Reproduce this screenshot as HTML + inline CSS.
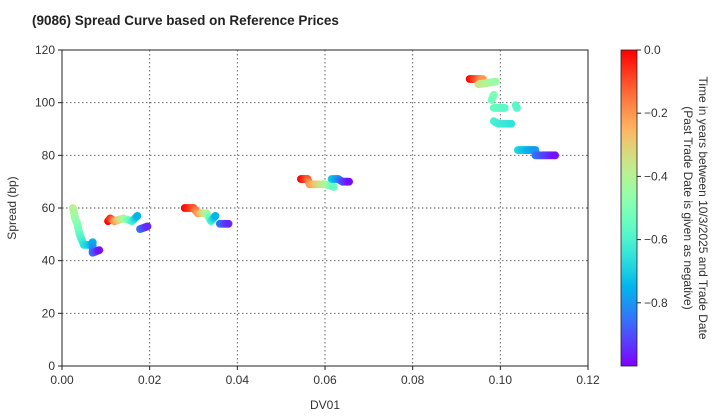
<!DOCTYPE html>
<html><head><meta charset="utf-8"><style>
body{margin:0;background:#fff}
svg{display:block;font-family:"Liberation Sans",sans-serif}
</style></head><body>
<svg id="s" width="720" height="420" xmlns="http://www.w3.org/2000/svg">
<defs><linearGradient id="cb" x1="0" y1="1" x2="0" y2="0"></linearGradient></defs>
<rect x="0" y="0" width="720" height="420" fill="#fff"/>
<text x="32" y="25" font-size="13.5" font-weight="bold" fill="#222">(9086)   Spread Curve based on Reference Prices</text>
<g id="grid" stroke="#555" stroke-width="0.9" stroke-dasharray="1.5,2.5"></g>
<g id="pts"></g>
<rect x="62" y="50" width="526" height="316" fill="none" stroke="#222" stroke-width="1"/>
<g id="ax" font-size="12" fill="#333"></g>
<text x="325" y="409" font-size="12" fill="#333" text-anchor="middle">DV01</text>
<text transform="translate(16,208) rotate(-90)" font-size="12" fill="#333" text-anchor="middle">Spread (bp)</text>
<rect x="621" y="50" width="16" height="316" fill="url(#cb)" stroke="#222" stroke-width="0.8"/>
<g id="cbt" font-size="12" fill="#333"></g>
<text transform="translate(699,208) rotate(90)" font-size="12" fill="#333" text-anchor="middle">Time in years between 10/3/2025 and Trade Date</text>
<text transform="translate(684,208) rotate(90)" font-size="12" fill="#333" text-anchor="middle">(Past Trade Date is given as negative)</text>
</svg>
<script>
const NS="http://www.w3.org/2000/svg";
function el(t,a,p,txt){const e=document.createElementNS(NS,t);for(const k in a)e.setAttribute(k,a[k]);if(txt!==undefined)e.textContent=txt;p.appendChild(e);return e;}
function col(t){let x=Math.max(0,Math.min(1,t+1));let r=Math.abs(2*x-0.5),g=Math.sin(Math.PI*x),b=Math.cos(Math.PI*x/2);r=Math.min(1,r);return `rgb(${Math.round(r*255)},${Math.round(g*255)},${Math.round(b*255)})`;}
const X=v=>62+v/0.12*526, Y=s=>366-s/120*316;
const grid=document.getElementById('grid'),ax=document.getElementById('ax');
for(let i=0;i<=6;i++){const v=i*0.02,x=X(v);if(i>0&&i<6)el('line',{x1:x,y1:50,x2:x,y2:366},grid);
 el('line',{x1:x,y1:366,x2:x,y2:370,stroke:'#222'},ax);el('text',{x:x,y:384,'text-anchor':'middle'},ax,i==0?'0.00':v.toFixed(2));}
for(let i=0;i<=6;i++){const s=i*20,y=Y(s);if(i>0&&i<6)el('line',{x1:62,y1:y,x2:588,y2:y},grid);
 el('line',{x1:58,y1:y,x2:62,y2:y,stroke:'#222'},ax);el('text',{x:55,y:y+4,'text-anchor':'end'},ax,String(s));}
const g=document.getElementById('cb');
for(let i=0;i<=20;i++){const t=-1+i/20;el('stop',{offset:i/20,'stop-color':col(t)},g);}
const cbt=document.getElementById('cbt');
[0,-0.2,-0.4,-0.6,-0.8].forEach(t=>{const y=50-t/0.2*63.2;el('line',{x1:637,y1:y,x2:641,y2:y,stroke:'#222'},cbt);el('text',{x:644,y:y+4},cbt,t==0?'0.0':'\u2212'+Math.abs(t).toFixed(1));});
const segs=[
[[0.0025,60,-0.38],[0.003,56,-0.45],[0.0035,54,-0.48],[0.004,50,-0.55],[0.0045,48,-0.6],[0.005,46,-0.65],[0.0065,46,-0.72],[0.007,47,-0.75],[0.007,43,-0.85],[0.0085,44,-0.98]],
[[0.0105,55,0],[0.011,56,-0.05],[0.012,55,-0.2],[0.014,56,-0.4],[0.016,55,-0.6],[0.0172,57,-0.75]],
[[0.0178,52,-0.85],[0.0195,53,-0.95]],
[[0.028,60,0],[0.030,60,-0.1],[0.031,58,-0.2],[0.033,58,-0.4],[0.034,55,-0.6],[0.035,57,-0.75]],
[[0.036,54,-0.85],[0.038,54,-0.95]],
[[0.0545,71,0],[0.056,71,-0.1],[0.0565,69,-0.2],[0.060,69,-0.4],[0.062,68,-0.55]],
[[0.0615,71,-0.7],[0.063,71,-0.8],[0.064,70,-0.9],[0.0655,70,-0.98]],
[[0.093,109,0],[0.096,109,-0.2]],
[[0.095,107,-0.35],[0.099,108,-0.45]],
[[0.0985,103,-0.5],[0.098,101,-0.52]],
[[0.0985,98,-0.55],[0.101,98,-0.57]],[[0.1035,99,-0.58],[0.1038,98,-0.58]],
[[0.0985,93,-0.6],[0.0995,92,-0.62],[0.1025,92,-0.65]],
[[0.104,82,-0.68],[0.108,82,-0.8]],
[[0.108,80,-0.85],[0.1125,80,-0.98]]
];
const pts=document.getElementById('pts');
segs.forEach(sg=>{for(let i=0;i<sg.length-1;i++){const a=sg[i],b=sg[i+1];const dx=X(b[0])-X(a[0]),dy=Y(b[1])-Y(a[1]);const n=Math.max(1,Math.ceil(Math.hypot(dx,dy)/1.5));
 for(let k=0;k<=n;k++){const f=k/n;el('circle',{cx:X(a[0])+dx*f,cy:Y(a[1])+dy*f,r:3.9,fill:col(a[2]+(b[2]-a[2])*f)},pts);}}});
</script>
</body></html>
